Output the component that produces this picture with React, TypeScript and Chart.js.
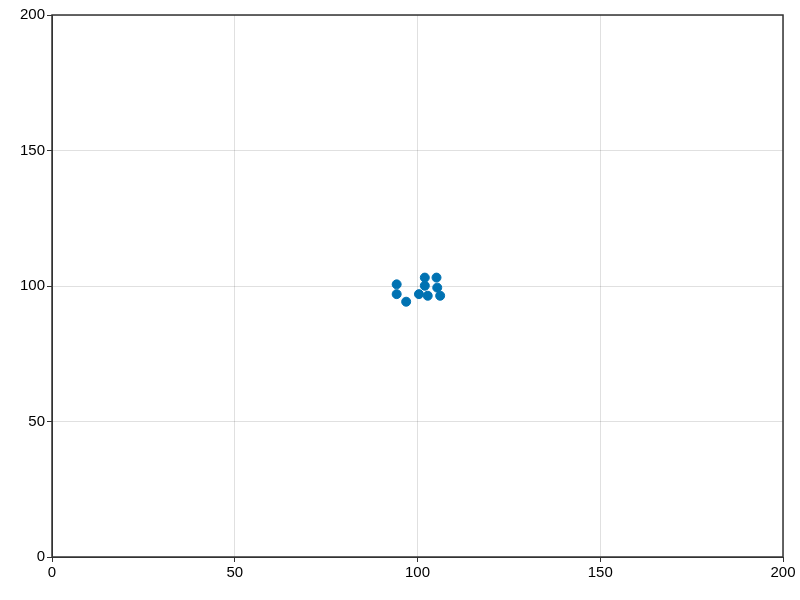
import { useEffect, useRef } from "react"
import { Chart, registerables } from "chart.js"

Chart.register(...registerables)

const xValues = [94.3, 94.3, 96.9, 100.4, 102.0, 102.0, 102.8, 105.2, 105.4, 106.2]
const yValues = [100.6, 97.0, 94.2, 97.0, 103.1, 100.1, 96.4, 103.1, 99.4, 96.4]

const frame = {
  id: "frame",
  afterDraw(chart: Chart) {
    const { ctx, chartArea: a } = chart
    ctx.save()
    ctx.strokeStyle = "#333"
    ctx.lineWidth = 1.5
    ctx.strokeRect(a.left, a.top, a.right - a.left, a.bottom - a.top)
    ctx.restore()
  },
}

export default function App() {
  const chartRef = useRef<HTMLCanvasElement>(null)

  useEffect(() => {
    document.body.style.margin = "0"
    if (!chartRef.current) return
    const tick = { color: "#000", font: { family: "Liberation Sans", size: 15 }, padding: 2 }
    const grid = { color: "rgba(0,0,0,0.12)", tickLength: 5, tickColor: "#333", drawTicks: true }
    const chart = new Chart(chartRef.current, {
      type: "scatter",
      data: {
        datasets: [
          {
            data: xValues.map((x, i) => ({ x, y: yValues[i] })),
            backgroundColor: "#0072b2",
            borderColor: "#0072b2",
            pointRadius: 4.5,
          },
        ],
      },
      options: {
        animation: false,
        responsive: false,
        layout: { padding: { top: 15, right: 17, left: 0, bottom: 0 } },
        plugins: { legend: { display: false }, tooltip: { enabled: false } },
        scales: {
          x: {
            min: 0, max: 200, ticks: { ...tick, stepSize: 50 }, grid, border: { color: "#333" },
            afterFit: (s: any) => { s.height = 43 },
          },
          y: {
            min: 0, max: 200, ticks: { ...tick, stepSize: 50 }, grid, border: { color: "#333" },
            afterFit: (s: any) => { s.width = 52 },
          },
        },
      },
      plugins: [frame],
    })
    return () => chart.destroy()
  }, [])

  return <canvas ref={chartRef} width={800} height={600} style={{ display: "block" }} />
}
